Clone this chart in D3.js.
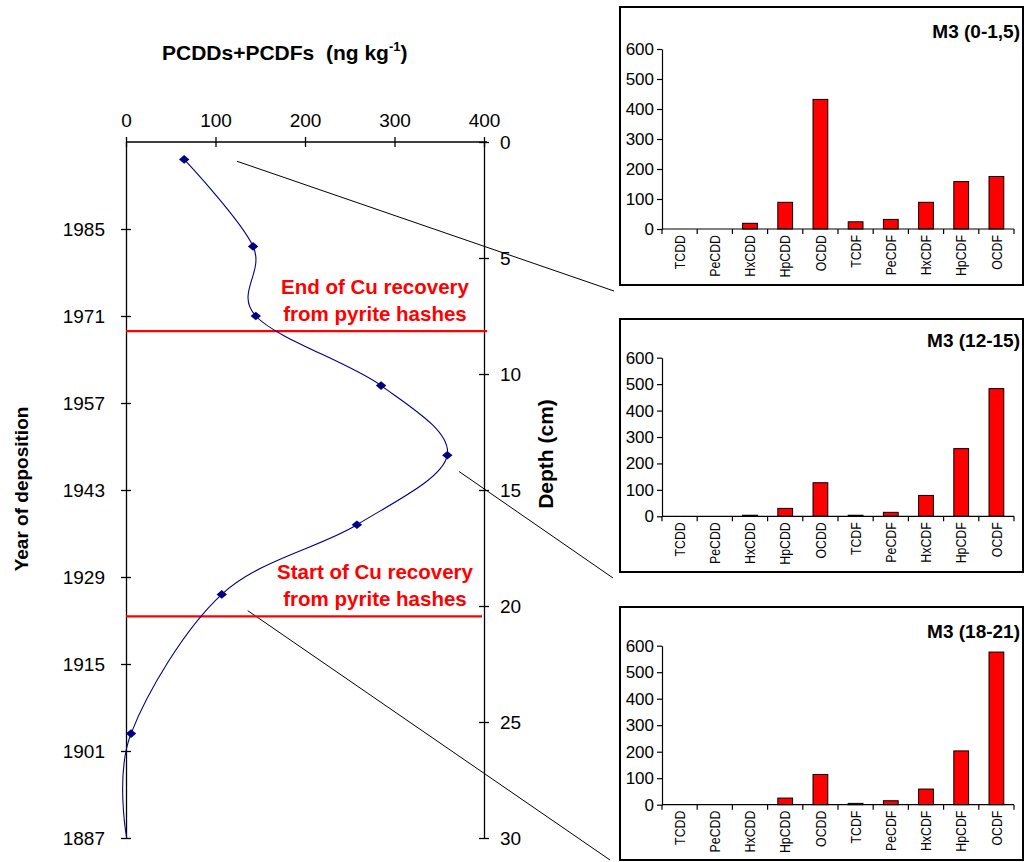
<!DOCTYPE html>
<html><head><meta charset="utf-8">
<script src="https://cdn.jsdelivr.net/npm/d3@7"></script>
<style>
body{margin:0;background:#fff}
svg{display:block}
text{font-family:"Liberation Sans",Arial,Helvetica,sans-serif}
</style>
</head><body>
<svg id="c" width="1025" height="862"></svg>
<script>
// ---------- data ----------
const sampleDepths = [0.75, 4.5, 7.5, 10.5, 13.5, 16.5, 19.5, 25.5];
const totalValues = [65, 142, 145, 285, 359, 258, 107, 5.6];
const curveDepths = [0.75, 4.5, 7.5, 10.5, 13.5, 16.5, 19.5, 25.5, 30];
const curveValues = [65, 142, 145, 285, 359, 258, 107, 5.6, 0.8];
const valueTicks = [0, 100, 200, 300, 400];
const depthTicks = [0, 5, 10, 15, 20, 25, 30];
const yearTicks = [1887, 1901, 1915, 1929, 1943, 1957, 1971, 1985];
const eventDepths = [8.15, 20.45];
const eventLine1 = ["End of Cu recovery", "Start of Cu recovery"];
const eventLine2 = ["from pyrite hashes", "from pyrite hashes"];
const congeners = ["TCDD","PeCDD","HxCDD","HpCDD","OCDD","TCDF","PeCDF","HxCDF","HpCDF","OCDF"];
const insetTitles = ["M3 (0-1,5)", "M3 (12-15)", "M3 (18-21)"];
const m3_0_1_5 = [0, 0, 19, 89, 432, 24, 32, 89, 158, 175];
const m3_12_15 = [0, 0, 4, 30, 127, 4, 15, 79, 256, 483];
const m3_18_21 = [0, 0, 0, 25, 114, 5, 15, 59, 203, 576];
const barTicks = [0, 100, 200, 300, 400, 500, 600];

// ---------- layout ----------
const svg = d3.select("#c");
const L = 126, R = 484, T = 142, B = 838;
const x = d3.scaleLinear([0, 400], [L, R]);
const yD = d3.scaleLinear([0, 30], [T, B]);
const yY = d3.scaleLinear([1999, 1887], [T, B]);
const FONT = '"Liberation Sans",Arial,sans-serif';

function styleAxis(g, size) {
  g.attr("font-family", FONT).attr("font-size", size);
  g.selectAll("path.domain").attr("stroke", "#000").attr("stroke-width", 1.3);
  g.selectAll(".tick line").attr("stroke", "#000").attr("stroke-width", 1.3);
  g.selectAll(".tick text").attr("fill", "#000");
}

// connector lines (behind)
const conn = [
  {v: 124, d: 0.83, ex: 614, ey: 291},
  {v: 372, d: 14.2, ex: 613, ey: 578},
  {v: 136, d: 20.2, ex: 610, ey: 860}
];
svg.append("g").selectAll("line").data(conn).join("line")
  .attr("x1", d => x(d.v)).attr("y1", d => yD(d.d))
  .attr("x2", d => d.ex).attr("y2", d => d.ey)
  .attr("stroke", "#000").attr("stroke-width", 1);

// top axis
const gTop = svg.append("g").attr("transform", `translate(0,${T})`)
  .call(d3.axisTop(x).tickValues(valueTicks).tickSize(5).tickSizeOuter(0).tickPadding(10));
gTop.select("path.domain").attr("d", `M${L},0H${R + 3}`);
gTop.selectAll(".tick line").attr("y1", 5);
styleAxis(gTop, 19);

// left axis (years)
const gLeft = svg.append("g").attr("transform", `translate(${L},0)`)
  .call(d3.axisLeft(yY).tickValues(yearTicks).tickFormat(d3.format("d"))
    .tickSize(5).tickSizeOuter(0).tickPadding(16));
gLeft.selectAll(".tick line").attr("x1", 5);
styleAxis(gLeft, 19);

// right axis (depth)
const gRight = svg.append("g").attr("transform", `translate(${R},0)`)
  .call(d3.axisRight(yD).tickValues(depthTicks).tickSize(5).tickSizeOuter(0).tickPadding(11));
gRight.selectAll(".tick line").attr("x1", -5);
styleAxis(gRight, 19);

// event lines
svg.append("g").selectAll("line").data(eventDepths).join("line")
  .attr("x1", L).attr("x2", (d, i) => i === 0 ? R + 3 : R - 2)
  .attr("y1", d => yD(d)).attr("y2", d => yD(d))
  .attr("stroke", "#ff0000").attr("stroke-width", 2.2);

// event labels
const evG = svg.append("g").attr("fill", "#ff0000").attr("font-weight", "bold")
  .attr("font-size", 20.5).attr("text-anchor", "middle");
eventDepths.forEach((d, i) => {
  const yb = yD(d) - 37;
  evG.append("text").attr("x", 375).attr("y", yb).text(eventLine1[i]);
  evG.append("text").attr("x", 375).attr("y", yb + 27).text(eventLine2[i]);
});

// curve
const line = d3.line()
  .x((d, i) => x(curveValues[i]))
  .y((d, i) => yD(curveDepths[i]))
  .curve(d3.curveCardinal.tension(0));
svg.append("path").attr("d", line(curveDepths))
  .attr("fill", "none").attr("stroke", "#000080").attr("stroke-width", 1.1);

// markers
svg.append("g").selectAll("path").data(sampleDepths).join("path")
  .attr("transform", (d, i) => `translate(${x(totalValues[i])},${yD(d)})`)
  .attr("d", "M0,-4.3L5.2,0L0,4.3L-5.2,0Z")
  .attr("fill", "#000080");

// axis titles
const tt = svg.append("text").attr("x", 162).attr("y", 60)
  .attr("font-weight", "bold").attr("font-size", 21).attr("fill", "#000")
  .style("white-space", "pre");
tt.append("tspan").text("PCDDs+PCDFs  (ng kg");
tt.append("tspan").attr("font-size", 13).attr("dy", -9).text("-1");
tt.append("tspan").attr("dy", 9).text(")");

svg.append("text").attr("transform", "translate(28,489) rotate(-90)")
  .attr("text-anchor", "middle").attr("font-weight", "bold").attr("font-size", 19)
  .text("Year of deposition");
svg.append("text").attr("transform", "translate(553,454) rotate(-90)")
  .attr("text-anchor", "middle").attr("font-weight", "bold").attr("font-size", 21)
  .text("Depth (cm)");

// ---------- insets ----------
const insets = [
  {vals: m3_0_1_5, top: 7, bottom: 285, y600: 49, y0: 229, tb: 38},
  {vals: m3_12_15, top: 319, bottom: 572, y600: 357.7, y0: 516.3, tb: 347},
  {vals: m3_18_21, top: 607, bottom: 860, y600: 645.7, y0: 804.7, tb: 638}
];
const bx0 = 620, bx1 = 1023, px0 = 662, px1 = 1014;

insets.forEach((ins, k) => {
  const g = svg.append("g");
  g.append("rect").attr("x", bx0).attr("y", ins.top)
    .attr("width", bx1 - bx0).attr("height", ins.bottom - ins.top)
    .attr("fill", "#fff").attr("stroke", "#000").attr("stroke-width", 2);

  const xb = d3.scaleBand(congeners, [px0, px1]).padding(0);
  const yb = d3.scaleLinear([0, 600], [ins.y0, ins.y600]);
  const bw = xb.bandwidth() * 0.42;
  const rows = congeners.map((c, i) => ({c, v: ins.vals[i]})).filter(d => d.v > 0);

  // bars
  g.append("g").selectAll("rect").data(rows).join("rect")
    .attr("x", d => xb(d.c) + (xb.bandwidth() - bw) / 2)
    .attr("y", d => yb(d.v)).attr("width", bw)
    .attr("height", d => yb(0) - yb(d.v))
    .attr("fill", "#ff0000").attr("stroke", "#000").attr("stroke-width", 1);

  // y axis
  const ga = g.append("g").attr("transform", `translate(${px0},0)`)
    .call(d3.axisLeft(yb).tickValues(barTicks).tickSize(5).tickSizeOuter(0).tickPadding(3));
  styleAxis(ga, 17);
  ga.selectAll("path.domain, .tick line").attr("stroke-width", 1.2);

  // x axis
  g.append("line").attr("x1", px0).attr("x2", px1).attr("y1", yb(0)).attr("y2", yb(0))
    .attr("stroke", "#000").attr("stroke-width", 1.2);
  const bounds = congeners.map(c => xb(c)).concat([px1]);
  g.append("g").selectAll("line").data(bounds).join("line")
    .attr("x1", d => d).attr("x2", d => d)
    .attr("y1", yb(0)).attr("y2", yb(0) + 5)
    .attr("stroke", "#000").attr("stroke-width", 1.2);

  // category labels
  g.append("g").selectAll("text").data(congeners).join("text")
    .attr("transform", d => `translate(${xb(d) + xb.bandwidth() / 2},${yb(0) + 6}) rotate(-90) scale(0.88,1.05)`)
    .attr("text-anchor", "end").attr("dy", "0.35em")
    .attr("font-size", 14).text(d => d);

  // title
  g.append("text").attr("x", 1020).attr("y", ins.tb)
    .attr("text-anchor", "end").attr("font-weight", "bold").attr("font-size", 19)
    .text(insetTitles[k]);
});
</script>
</body></html>
